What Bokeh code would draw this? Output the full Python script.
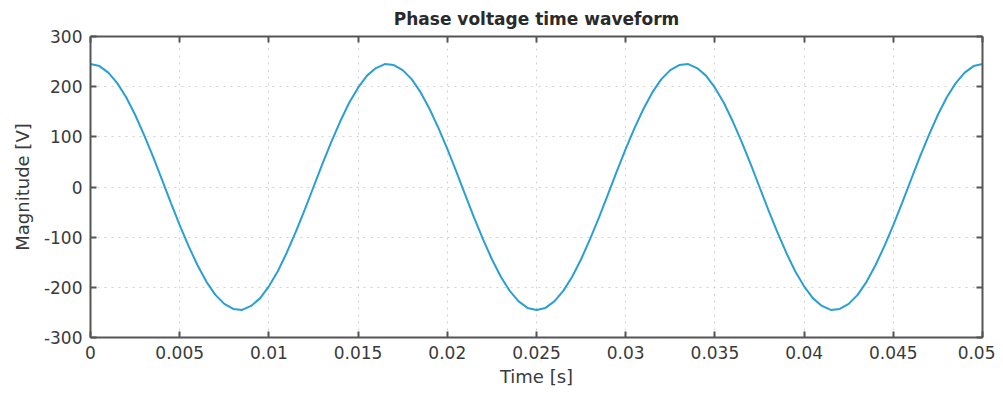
from bokeh.plotting import figure
from bokeh.models import LinearAxis, FixedTicker, Range1d, CustomLabelingPolicy
from bokeh.embed import file_html
from bokeh.resources import INLINE

# Time samples [s] and read-off phase voltage [V]
time_s = [i * 0.0005 for i in range(101)]
voltage_v = [245, 241, 228, 207, 179, 144, 104, 61, 15, -31,
             -76, -118, -156, -189, -215, -233, -243, -245, -237, -222,
             -198, -168, -131, -90, -46, 0, 46, 90, 131, 168,
             198, 222, 237, 245, 243, 233, 215, 189, 156, 118,
             76, 31, -15, -61, -104, -144, -179, -207, -228, -241,
             -245, -241, -228, -207, -179, -144, -104, -61, -15, 31,
             76, 118, 156, 189, 215, 233, 243, 245, 237, 222,
             198, 168, 131, 90, 46, 0, -46, -90, -131, -168,
             -198, -222, -237, -245, -243, -233, -215, -189, -156, -118,
             -76, -31, 15, 61, 104, 144, 179, 207, 228, 241,
             245]
x_ticks = [0, 0.005, 0.01, 0.015, 0.02, 0.025, 0.03, 0.035, 0.04, 0.045, 0.05]
x_tick_labels = ["0", "0.005", "0.01", "0.015", "0.02", "0.025", "0.03",
                 "0.035", "0.04", "0.045", "0.05"]
y_ticks = [-300, -200, -100, 0, 100, 200, 300]
y_tick_labels = ["-300", "-200", "-100", "0", "100", "200", "300"]

FONT = "DejaVu Sans"
AX = "#555555"

p = figure(width=995, height=393, output_backend="svg", toolbar_location=None,
           x_range=Range1d(0, 0.05), y_range=Range1d(-300, 300),
           min_border_left=90, min_border_right=13, min_border_top=36,
           min_border_bottom=56)

p.title.text = "Phase voltage time waveform"
p.title.align = "center"
p.title.text_font = FONT
p.title.text_font_size = "17px"
p.title.text_font_style = "bold"
p.title.text_color = "#2a2a2a"
p.title.standoff = 8

p.line(time_s, voltage_v, line_color="#2a9fd6", line_width=2)

for ax in (p.xaxis[0], p.yaxis[0]):
    ax.axis_line_color = AX
    ax.axis_line_width = 2
    ax.major_tick_in = 6
    ax.major_tick_out = 0
    ax.major_tick_line_color = AX
    ax.major_tick_line_width = 2
    ax.minor_tick_line_color = None
    ax.major_label_text_font = FONT
    ax.major_label_text_font_size = "17px"
    ax.major_label_text_color = "#3a3a3a"
    ax.axis_label_text_font = FONT
    ax.axis_label_text_font_size = "18px"
    ax.axis_label_text_font_style = "normal"
    ax.axis_label_text_color = "#3a3a3a"

p.xaxis.ticker = FixedTicker(ticks=x_ticks)
p.xaxis.major_label_overrides = dict(zip(x_ticks, x_tick_labels))
p.yaxis.ticker = FixedTicker(ticks=y_ticks)
p.yaxis.major_label_overrides = dict(zip(y_ticks, y_tick_labels))
p.xaxis.axis_label = "Time [s]"
p.yaxis.axis_label = "Magnitude [V]"
p.xaxis.major_label_standoff = 8
p.yaxis.major_label_standoff = 8
p.xaxis.axis_label_standoff = 4
p.yaxis.axis_label_standoff = 8

hide_all = CustomLabelingPolicy(code="""
    const arr = [...indices]
    for (const i of arr) indices.unset(i)
    return indices
""")

top = LinearAxis(ticker=FixedTicker(ticks=x_ticks), major_label_policy=hide_all,
                 axis_line_color=AX, axis_line_width=2, major_tick_in=6, major_tick_out=0,
                 major_tick_line_color=AX, major_tick_line_width=2, minor_tick_line_color=None,
                 major_label_standoff=0, major_label_text_font_size="1px")
right = LinearAxis(ticker=FixedTicker(ticks=y_ticks), major_label_policy=hide_all,
                   axis_line_color=AX, axis_line_width=2, major_tick_in=6, major_tick_out=0,
                   major_tick_line_color=AX, major_tick_line_width=2, minor_tick_line_color=None,
                   major_label_standoff=0, major_label_text_font_size="1px")
p.add_layout(top, "above")
p.add_layout(right, "right")

p.xgrid.ticker = FixedTicker(ticks=x_ticks)
p.ygrid.ticker = FixedTicker(ticks=y_ticks)
p.grid.grid_line_color = "#d0d0d0"
p.grid.grid_line_dash = "2 5"
p.grid.grid_line_width = 1
p.outline_line_color = None
p.background_fill_color = "white"
p.border_fill_color = "white"

open("out.html", "w").write(file_html(p, INLINE))
